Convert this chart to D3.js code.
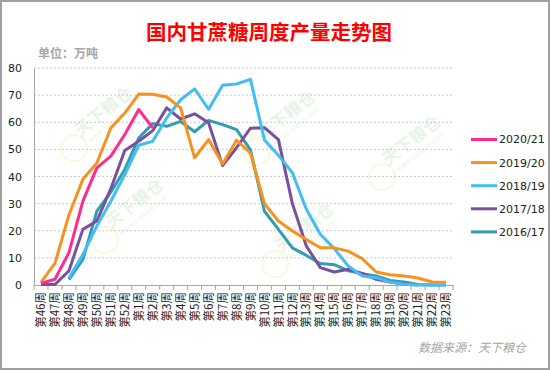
<!DOCTYPE html>
<html>
<head>
<meta charset="utf-8">
<script src="https://cdn.jsdelivr.net/npm/d3@7"></script>
<style>
  body { margin: 0; background: #fff; }
  #chart { width: 550px; height: 370px; }
  text { font-family: "DejaVu Sans", sans-serif; }
</style>
</head>
<body>
<div id="chart"></div>
<script>
// week labels (season runs from week 46 to week 23 of next year)
const weeks = ["第46周","第47周","第48周","第49周","第50周","第51周","第52周",
  "第1周","第2周","第3周","第4周","第5周","第6周","第7周","第8周","第9周","第10周",
  "第11周","第12周","第13周","第14周","第15周","第16周","第17周","第18周","第19周",
  "第20周","第21周","第22周","第23周"];

const seasons = ["2020/21","2019/20","2018/19","2017/18","2016/17"];
const colors = ["#ff2b8e","#f7921e","#43bdf4","#7a509c","#2f9eb2"];
const yTicks = [0,10,20,30,40,50,60,70,80];

// weekly output, 10k tonnes
const s2021 = [0.6,2.1,11.9,30.9,43.2,47.5,55.5,64.7,57.9,null,null,null,null,null,null,
  null,null,null,null,null,null,null,null,null,null,null,null,null,null,null];
const s1920 = [1,8,25.8,39,45,57.9,63.4,70.4,70.3,69.3,65.3,46.9,53.6,44.6,53.4,48.6,
  30,23.6,19.9,16.8,13.7,13.7,12.5,9.7,4.8,3.8,3.3,2.6,1.1,1.0];
const s1819 = [null,null,2.6,11.2,21.7,30.9,40.7,51.5,53,61.6,68.3,72.3,64.8,73.6,74.1,75.8,
  53.5,47.8,41.4,27.9,18.7,13.4,7.0,3.3,2.7,1.1,0.3,0,0,0];
const s1718 = [0.2,0.2,5.2,20.5,23.6,35.5,49.6,53,56.9,65.3,61.2,63.1,59.8,44,50.6,57.8,
  58,53.6,30,14.4,6.4,4.8,5.8,4.3,2.1,1.1,0.4,0,null,null];
const s1617 = [null,null,2,9.4,27.2,34.2,42.6,54.2,59.5,58.5,60.3,56.5,60.7,59.1,57.3,49.8,
  27.2,20.5,13.7,10.9,7.9,7.5,5.2,4.2,3.3,1.7,1.1,0.2,0,0];
const series = [s2021, s1920, s1819, s1718, s1617];

const W = 550, H = 370;
const svg = d3.select("#chart").append("svg")
  .attr("width", W).attr("height", H);

// frame
svg.append("rect").attr("x", 1).attr("y", 1).attr("width", W - 2).attr("height", H - 2)
  .attr("fill", "#fff").attr("stroke", "#a0a0a0").attr("stroke-width", 2);

// watermarks
const marks = [[107,116],[138,208],[290,120],[415,145],[308,232]];
marks.forEach(([mx, my]) => {
  const g = svg.append("g").attr("transform", `translate(${mx},${my}) rotate(-38)`)
    .attr("opacity", 0.14);
  g.append("text").attr("text-anchor", "middle")
    .style("font-family", "Noto Sans CJK SC").style("font-size", "17px")
    .style("font-weight", "bold").attr("fill", "#5cb85c").text("天下粮仓");
  g.append("text").attr("text-anchor", "middle").attr("y", 11)
    .style("font-size", "7px").attr("fill", "#5cb85c").text("www.cofeed.com");
  svg.append("circle").attr("cx", mx - 33).attr("cy", my + 32).attr("r", 13)
    .attr("fill", "none").attr("stroke", "#f0d060").attr("stroke-width", 2).attr("opacity", 0.2);
});

const x = d3.scaleBand().domain(weeks).range([34, 453]).padding(0);
const y = d3.scaleLinear().domain([0, 80]).range([285, 68]);

// grid
svg.append("g").selectAll("line").data(yTicks.slice(1)).join("line")
  .attr("x1", 34).attr("x2", 453)
  .attr("y1", d => y(d)).attr("y2", d => y(d))
  .attr("stroke", "#c8c8c8").attr("stroke-dasharray", "2,2");

// y axis
const yAxis = svg.append("g").attr("transform", "translate(34,0)")
  .call(d3.axisLeft(y).tickValues(yTicks).tickSize(0).tickPadding(12));
yAxis.select(".domain").attr("stroke", "#a6a6a6");
yAxis.selectAll("text").style("font-size", "11px").attr("fill", "#222")
  .style("font-family", "DejaVu Sans");

// x axis
const xAxis = svg.append("g").attr("transform", "translate(0,285)")
  .call(d3.axisBottom(x).tickSize(0).tickFormat(""));
xAxis.select(".domain").attr("stroke", "#a6a6a6");
svg.append("g").selectAll("line").data(weeks.concat(["end"])).join("line")
  .attr("x1", (d, i) => 34 + i * x.bandwidth()).attr("x2", (d, i) => 34 + i * x.bandwidth())
  .attr("y1", 285).attr("y2", 290).attr("stroke", "#a6a6a6");
svg.append("g").selectAll("text").data(weeks).join("text")
  .attr("transform", d => `translate(${x(d) + x.bandwidth() / 2},292) rotate(-90)`)
  .attr("text-anchor", "end").attr("dy", "0.36em")
  .style("font-family", "Noto Sans CJK SC").style("font-size", "11.5px")
  .attr("fill", "#222").text(d => d);

// lines, oldest drawn first
const line = d3.line()
  .defined(d => d != null)
  .x((d, i) => x(weeks[i]) + x.bandwidth() / 2)
  .y(d => y(d));
for (let k = series.length - 1; k >= 0; k--) {
  svg.append("path").datum(series[k])
    .attr("fill", "none").attr("stroke", colors[k]).attr("stroke-width", 3)
    .attr("stroke-linejoin", "round")
    .attr("d", line);
}

// legend
const lg = svg.append("g").selectAll("g").data(seasons).join("g")
  .attr("transform", (d, i) => `translate(471,${139.5 + i * 23.1})`);
lg.append("line").attr("x1", 0).attr("x2", 26)
  .attr("stroke", (d, i) => colors[i]).attr("stroke-width", 3);
lg.append("text").attr("x", 28).attr("dy", "0.36em")
  .style("font-size", "11px").attr("fill", "#222").text(d => d);

// titles
svg.append("text").attr("x", 269).attr("y", 40).attr("text-anchor", "middle")
  .style("font-family", "Noto Sans CJK SC").style("font-size", "20.5px")
  .style("font-weight", "bold").attr("fill", "#ff0000").text("国内甘蔗糖周度产量走势图");
svg.append("text").attr("x", 38).attr("y", 58)
  .style("font-family", "Noto Sans CJK SC").style("font-size", "12px")
  .style("font-weight", "bold").attr("fill", "#a6a6a6").text("单位：万吨");
svg.append("text").attr("x", 526).attr("y", 352).attr("text-anchor", "end")
  .style("font-family", "Noto Sans CJK SC").style("font-size", "12px")
  .style("font-style", "italic").attr("fill", "#a6a6a6").text("数据来源：天下粮仓");
</script>
</body>
</html>
